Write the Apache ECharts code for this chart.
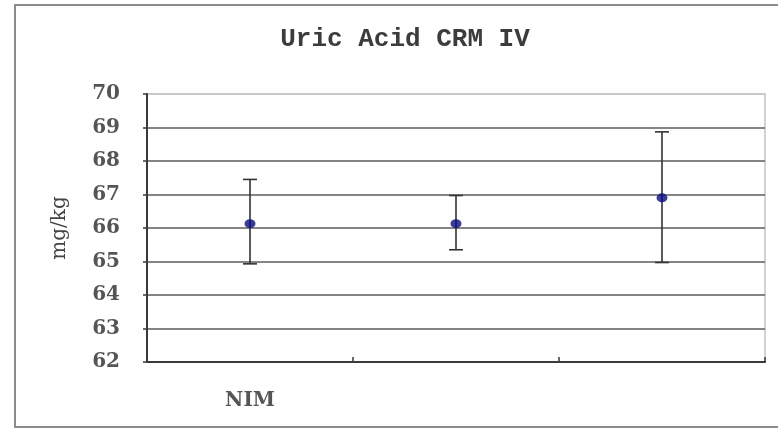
<!DOCTYPE html>
<html>
<head>
<meta charset="utf-8">
<script src="https://cdn.jsdelivr.net/npm/echarts@6/dist/echarts.min.js"></script>
<style>html,body{margin:0;padding:0;background:#fff}#c{width:778px;height:428px}</style>
</head>
<body>
<div id="c"></div>
<script>
const categories = ['NIM', '', ''];
const means = [66.13, 66.13, 66.9];
const lows = [64.93, 65.35, 64.97];
const highs = [67.45, 66.97, 68.87];
const yTicks = [62, 63, 64, 65, 66, 67, 68, 69, 70];

const chart = echarts.init(document.getElementById('c'));
const gridColors = yTicks.map((v, i) => i === yTicks.length - 1 ? '#c4c4c4' : '#5c5c5c');

chart.setOption({
  animation: false,
  backgroundColor: '#fff',
  title: {
    text: 'Uric Acid CRM IV',
    left: 400, top: 21, textAlign: 'center',
    textStyle: { fontFamily: 'Liberation Mono', fontSize: 26, fontWeight: 'bold', color: '#3c3c3c' }
  },
  graphic: [{
    type: 'rect', silent: true, z: -1,
    shape: { x: 15, y: 5, width: 800, height: 422 },
    style: { fill: 'none', stroke: '#8c8c8c', lineWidth: 2 }
  }],
  grid: { left: 147, right: 13, top: 94, bottom: 66, show: true, borderColor: '#c4c4c4', borderWidth: 1.5, backgroundColor: 'transparent' },
  xAxis: {
    type: 'category', data: categories, boundaryGap: true,
    axisLine: { lineStyle: { color: '#3a3a3a', width: 2 } },
    axisTick: { show: true, inside: true, length: 5, interval: 0, lineStyle: { color: '#3a3a3a', width: 1.5 } },
    axisLabel: { margin: 29, fontFamily: 'DejaVu Serif', fontWeight: 'bold', fontSize: 20, color: '#555' },
    splitLine: { show: false }
  },
  yAxis: {
    type: 'value', min: 62, max: 70, interval: 1,
    name: 'mg/kg', nameLocation: 'middle', nameGap: 77, nameRotate: 90,
    nameTextStyle: { fontFamily: 'DejaVu Serif', fontSize: 20, color: '#444', padding: [0, 0, 0, 0] },
    axisLine: { show: true, lineStyle: { color: '#3a3a3a', width: 2 } },
    axisTick: { show: true, length: 4, lineStyle: { color: '#3a3a3a', width: 1.5 } },
    axisLabel: { margin: 27, fontFamily: 'DejaVu Serif', fontWeight: 'bold', fontSize: 20, color: '#555', padding: [4, 0, 0, 0] },
    splitLine: { show: true, lineStyle: { color: gridColors, width: 1.6 } }
  },
  series: [
    {
      type: 'custom',
      data: categories.map((c, i) => [i, lows[i], highs[i]]),
      z: 3,
      renderItem: function (params, api) {
        const x = api.value(0);
        const lo = api.coord([x, api.value(1)]);
        const hi = api.coord([x, api.value(2)]);
        const w = 7;
        const style = { stroke: '#333', lineWidth: 1.6 };
        return {
          type: 'group',
          children: [
            { type: 'line', shape: { x1: lo[0], y1: lo[1], x2: hi[0], y2: hi[1] }, style: style },
            { type: 'line', shape: { x1: hi[0] - w, y1: hi[1], x2: hi[0] + w, y2: hi[1] }, style: style },
            { type: 'line', shape: { x1: lo[0] - w, y1: lo[1], x2: lo[0] + w, y2: lo[1] }, style: style }
          ]
        };
      }
    },
    {
      type: 'scatter',
      data: means,
      symbol: 'circle',
      symbolSize: [11, 9],
      z: 5,
      itemStyle: { color: '#0a0a80' }
    }
  ]
});
</script>
</body>
</html>
